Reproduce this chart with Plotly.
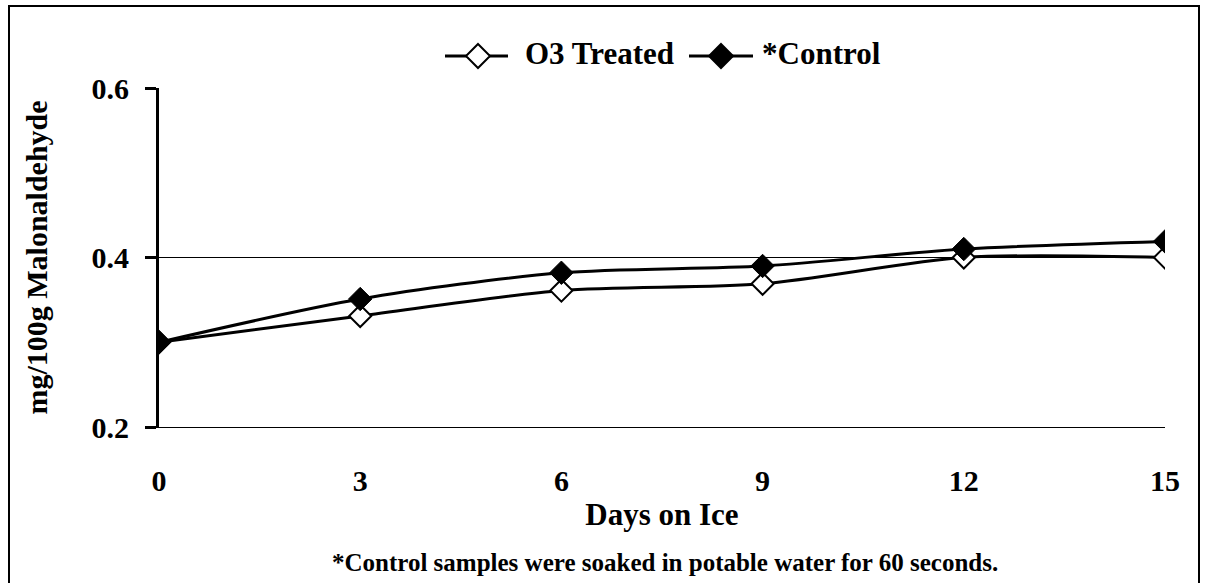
import plotly.graph_objects as go

days = [0, 3, 6, 9, 12, 15]
o3_treated = [0.30, 0.331, 0.361, 0.369, 0.40, 0.40]
control = [0.30, 0.351, 0.382, 0.39, 0.41, 0.419]
y_ticks = [0.2, 0.4, 0.6]
x_ticks = [0, 3, 6, 9, 12, 15]
series_names = ["O3 Treated", "*Control"]

FONT = "Liberation Serif"

o3_marker = dict(symbol="diamond", size=17, color="white", line=dict(color="black", width=2))
ctl_marker = dict(symbol="diamond", size=18, color="black", line=dict(color="black", width=1))

fig = go.Figure()
fig.add_trace(go.Scatter(
    x=days, y=o3_treated, name=series_names[0], mode="lines+markers", showlegend=False,
    line=dict(color="black", width=3, shape="spline", smoothing=0.8), marker=o3_marker,
))
fig.add_trace(go.Scatter(
    x=days, y=control, name=series_names[1], mode="lines+markers", showlegend=False,
    line=dict(color="black", width=3, shape="spline", smoothing=0.8), marker=ctl_marker,
))

W, H = 1205, 583
L, R, T, B = 159, 40, 88, 156
pw, ph = W - L - R, H - T - B

def px(x):
    return (x - L) / pw

def py(y):
    return (H - B - y) / ph

# outer chart frame
fig.add_shape(type="rect", xref="paper", yref="paper",
              x0=px(9), x1=px(1199), y0=py(590), y1=py(6),
              line=dict(color="black", width=2), fillcolor="rgba(0,0,0,0)", layer="below")

# legend (drawn manually to get Excel-style long line keys)
LEG_Y = 56
legend_items = [
    (series_names[0], 445, 508, 478, "white", 523),
    (series_names[1], 689, 753, 721, "black", 760),
]
diamond = "M 0 12 L 12 0 L 0 -12 L -12 0 Z"
for name, lx0, lx1, cx, fill, tx in legend_items:
    fig.add_shape(type="line", xref="paper", yref="paper",
                  x0=px(lx0), x1=px(lx1), y0=py(LEG_Y), y1=py(LEG_Y),
                  line=dict(color="black", width=3))
    fig.add_shape(type="path", xref="paper", yref="paper",
                  xsizemode="pixel", ysizemode="pixel", xanchor=px(cx), yanchor=py(LEG_Y),
                  path=diamond, fillcolor=fill, line=dict(color="black", width=2))
    fig.add_annotation(xref="paper", yref="paper", x=px(tx), y=py(LEG_Y - 2),
                       text=name, showarrow=False, xanchor="left", yanchor="middle",
                       font=dict(family=FONT, size=31, weight="bold", color="black"))

fig.update_layout(
    width=W, height=H,
    margin=dict(l=L, r=R, t=T, b=B),
    paper_bgcolor="white", plot_bgcolor="white",
    font=dict(family=FONT, color="black"),
    showlegend=False,
    xaxis=dict(range=[0, 15], tickvals=x_ticks, ticktext=[str(v) for v in x_ticks],
               showgrid=False, zeroline=False, showline=True, linecolor="black", linewidth=1,
               ticks="", tickfont=dict(family=FONT, size=30, weight="bold"), ticklabelstandoff=27,
               title=dict(text="Days on Ice", font=dict(family=FONT, size=31, weight="bold"), standoff=7)),
    yaxis=dict(range=[0.2, 0.6], tickvals=y_ticks, ticktext=["0.2", "0.4", "0.6"],
               showgrid=True, gridcolor="black", gridwidth=1, zeroline=False,
               showline=True, linecolor="black", linewidth=3,
               ticks="outside", ticklen=11, tickwidth=3, tickcolor="black", ticklabelstandoff=10,
               tickfont=dict(family=FONT, size=30, weight="bold"),
               title=dict(text="mg/100g Malonaldehyde", font=dict(family=FONT, size=30, weight="bold"), standoff=36)),
)

fig.add_annotation(xref="paper", yref="paper", x=px(665), y=py(562),
                   text="*Control samples were soaked in potable water for 60 seconds.",
                   showarrow=False, font=dict(family=FONT, size=25, weight="bold"),
                   xanchor="center", yanchor="middle")

fig.write_html("out.html", config={"displayModeBar": False},
               post_script="document.body.style.margin='0px';document.body.style.overflow='hidden';")
